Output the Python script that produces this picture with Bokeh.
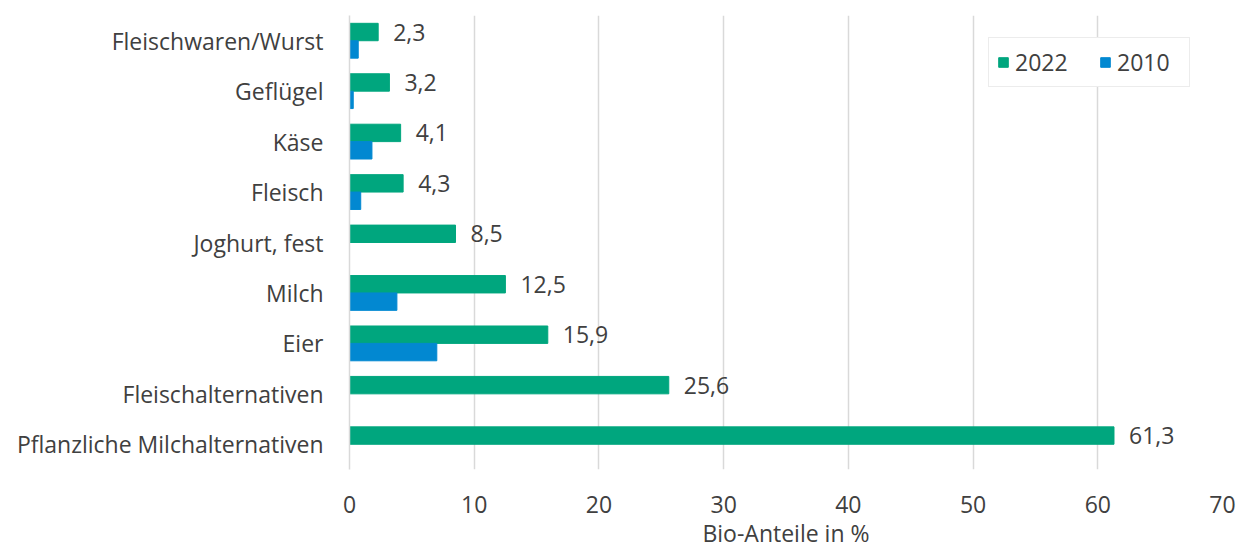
from bokeh.plotting import figure
from bokeh.models import ColumnDataSource, Range1d, FactorRange, Legend, LegendItem, FixedTicker
from bokeh.transform import dodge
from bokeh.embed import file_html
from bokeh.resources import INLINE
from bokeh.core.properties import value

categories = ["Fleischwaren/Wurst", "Geflügel", "Käse", "Fleisch", "Joghurt, fest",
              "Milch", "Eier", "Fleischalternativen", "Pflanzliche Milchalternativen"]
v2022 = [2.3, 3.2, 4.1, 4.3, 8.5, 12.5, 15.9, 25.6, 61.3]
v2010 = [0.7, 0.3, 1.8, 0.9, 0.0, 3.8, 7.0, 0.0, 0.0]
x_ticks = [0, 10, 20, 30, 40, 50, 60, 70]
x_title = "Bio-Anteile in %"

FONT = "Open Sans"
TXT = "#404040"
GREEN = "#00A67E"
BLUE = "#0288D1"
FS = "23px"

src = ColumnDataSource(dict(
    cat=categories, v2022=v2022, v2010=v2010,
    lab=[f"{v:.1f}".replace(".", ",") for v in v2022],
))

p = figure(width=1242, height=553, output_backend="svg", toolbar_location=None,
           y_range=FactorRange(factors=categories[::-1]), x_range=Range1d(0, 70),
           min_border_left=349, min_border_right=20, min_border_top=15, min_border_bottom=84)
p.outline_line_color = None

r22 = p.hbar(y=dodge("cat", 0.1725, range=p.y_range), right="v2022", left=0, height=0.345,
             source=src, fill_color=GREEN, line_color=GREEN)
r10 = p.hbar(y=dodge("cat", -0.1725, range=p.y_range), right="v2010", left=0, height=0.345,
             source=src, fill_color=BLUE, line_color=BLUE)
p.text(x="v2022", y=dodge("cat", 0.1725, range=p.y_range), text="lab", source=src,
       x_offset=15, text_baseline="middle", text_align="left",
       text_font=value(FONT), text_font_size=FS, text_color=TXT)

p.ygrid.grid_line_color = None
p.xgrid.grid_line_color = "#D9D9D9"
p.xgrid.grid_line_width = 1.5
p.xgrid.ticker = FixedTicker(ticks=x_ticks[1:])

p.xaxis.ticker = FixedTicker(ticks=x_ticks)
p.xaxis.axis_line_color = None
p.xaxis.major_tick_line_color = None
p.xaxis.minor_tick_line_color = None
p.xaxis.major_tick_out = 0
p.xaxis.minor_tick_out = 0
p.xaxis.major_label_standoff = 26
p.xaxis.axis_label = x_title
p.xaxis.axis_label_standoff = 1
p.xaxis.axis_label_text_font_style = "normal"

p.yaxis.axis_line_color = "#D9D9D9"
p.yaxis.axis_line_width = 1.5
p.yaxis.major_tick_line_color = None
p.yaxis.minor_tick_line_color = None
p.yaxis.major_tick_out = 0
p.yaxis.minor_tick_out = 0
p.yaxis.major_label_standoff = 26

for ax in (p.xaxis[0], p.yaxis[0]):
    ax.major_label_text_font = FONT
    ax.major_label_text_font_size = FS
    ax.major_label_text_color = TXT
    ax.axis_label_text_font = FONT
    ax.axis_label_text_font_size = FS
    ax.axis_label_text_color = TXT

legend = Legend(items=[LegendItem(label="2022", renderers=[r22]),
                       LegendItem(label="2010", renderers=[r10])],
                orientation="horizontal", location=(639, 382))
legend.label_text_font = FONT
legend.label_text_font_size = FS
legend.label_text_color = TXT
legend.glyph_width = 12
legend.glyph_height = 12
legend.label_standoff = 6
legend.label_width = 64
legend.spacing = 20
legend.padding = 8
legend.margin = 0
legend.border_line_color = "#D9D9D9"
legend.border_line_width = 1.5
legend.background_fill_alpha = 1
p.add_layout(legend, "center")

open("out.html", "w").write(file_html(p, INLINE))
